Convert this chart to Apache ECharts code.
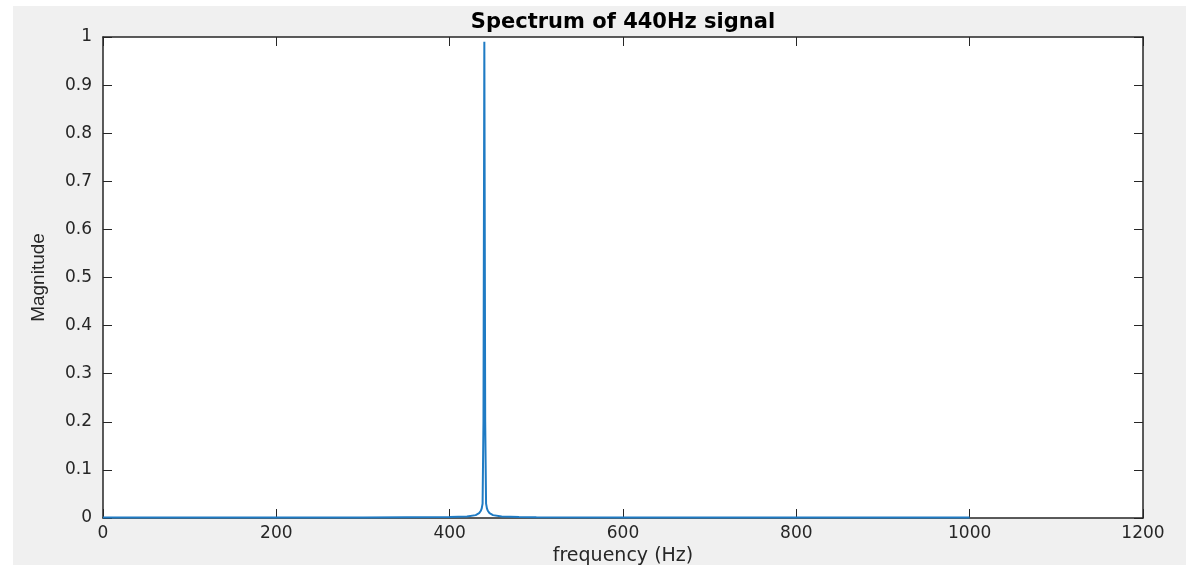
<!DOCTYPE html>
<html>
<head>
<meta charset="utf-8">
<style>
  html, body { margin: 0; padding: 0; background: #fff; }
  #main { width: 1186px; height: 565px; }
</style>
<script src="https://cdn.jsdelivr.net/npm/echarts@6/dist/echarts.min.js"></script>
</head>
<body>
<div id="main"></div>
<script>
// spectrum samples (Hz, magnitude)
var freq = [0, 100, 200, 300, 350, 400, 420, 430, 434, 436, 437, 438, 439, 440, 441, 442, 443, 444, 446, 450, 460, 480, 500, 600, 800, 1000];
var mag  = [0.001, 0.001, 0.001, 0.001, 0.0015, 0.002, 0.003, 0.006, 0.01, 0.015, 0.02, 0.03, 0.2, 0.99, 0.2, 0.03, 0.02, 0.015, 0.01, 0.006, 0.003, 0.002, 0.0015, 0.001, 0.001, 0.001];
var xTicks = [0, 1200, 200];   // min, max, step
var yTicks = [0, 1, 0.1];

var points = freq.map(function (f, i) { return [f, mag[i]]; });

var chart = echarts.init(document.getElementById('main'));

var boxColor = '#262626';
var tickFont = { color: '#262626', fontSize: 17, fontFamily: 'DejaVu Sans' };

chart.setOption({
  backgroundColor: '#f0f0f0',
  animation: false,
  graphic: [
    // white margin strips of the screenshot
    { type: 'rect', left: 0, top: 0, shape: { width: 13, height: 565 }, style: { fill: '#fff' } },
    { type: 'rect', left: 0, top: 0, shape: { width: 1186, height: 6 }, style: { fill: '#fff' } }
  ],
  title: {
    text: 'Spectrum of 440Hz signal',
    left: 623,
    top: 12,
    textAlign: 'center',
    padding: 0,
    textStyle: { fontFamily: 'DejaVu Sans', fontWeight: 'bold', fontSize: 21, color: '#000' }
  },
  grid: {
    left: 103, right: 43, top: 37, bottom: 47,
    outerBoundsMode: 'none', containLabel: false,
    show: true, backgroundColor: '#fff', borderWidth: 0
  },
  xAxis: [{
    type: 'value',
    min: xTicks[0], max: xTicks[1], interval: xTicks[2],
    name: 'frequency (Hz)',
    nameLocation: 'middle',
    nameGap: 22,
    nameTextStyle: { color: '#262626', fontSize: 19, fontFamily: 'DejaVu Sans' },
    axisLine: { lineStyle: { color: boxColor, width: 1.5 } },
    axisTick: { inside: true, length: 9, lineStyle: { color: boxColor } },
    axisLabel: Object.assign({ margin: 7, formatter: function (v) { return String(v); } }, tickFont),
    splitLine: { show: false }
  }, {
    type: 'value',
    position: 'top',
    min: xTicks[0], max: xTicks[1], interval: xTicks[2],
    axisLine: { onZero: false, lineStyle: { color: boxColor, width: 1.5 } },
    axisTick: { inside: true, length: 9, lineStyle: { color: boxColor } },
    axisLabel: { show: false },
    splitLine: { show: false }
  }],
  yAxis: [{
    type: 'value',
    min: yTicks[0], max: yTicks[1], interval: yTicks[2],
    name: 'Magnitude',
    nameLocation: 'middle',
    nameGap: 55,
    nameTextStyle: { color: '#262626', fontSize: 19, fontFamily: 'Liberation Sans' },
    axisLine: { show: true, lineStyle: { color: boxColor, width: 1.5 } },
    axisTick: { show: true, inside: true, length: 9, lineStyle: { color: boxColor } },
    axisLabel: Object.assign({ margin: 11 }, tickFont),
    splitLine: { show: false }
  }, {
    type: 'value',
    position: 'right',
    min: yTicks[0], max: yTicks[1], interval: yTicks[2],
    axisLine: { show: true, onZero: false, lineStyle: { color: boxColor, width: 1.5 } },
    axisTick: { show: true, inside: true, length: 9, lineStyle: { color: boxColor } },
    axisLabel: { show: false },
    splitLine: { show: false }
  }],
  series: [{
    type: 'line',
    data: points,
    showSymbol: false,
    smooth: false,
    lineStyle: { color: '#1f7bc4', width: 2 },
    z: 1
  }]
});
</script>
</body>
</html>
